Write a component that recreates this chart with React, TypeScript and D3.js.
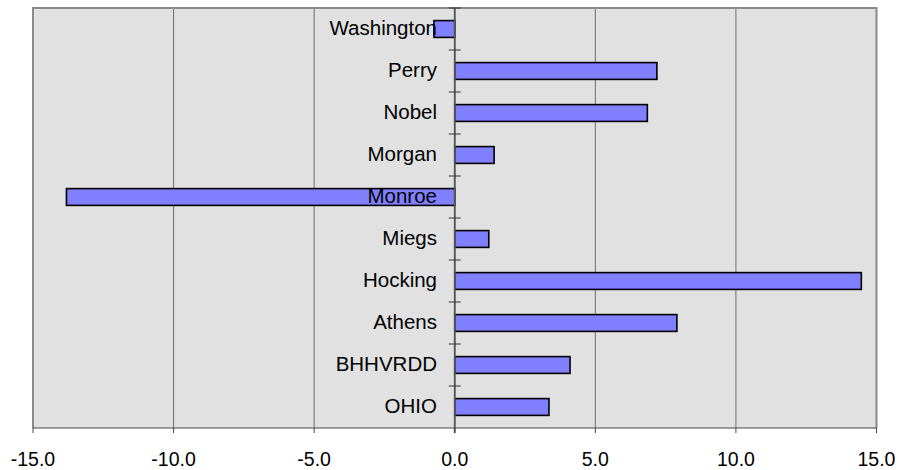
import React from "react";
import * as d3 from "d3";

// Change by county, top to bottom as listed
const counties = ["Washington", "Perry", "Nobel", "Morgan", "Monroe", "Miegs", "Hocking", "Athens", "BHHVRDD", "OHIO"];
const changes = [-0.74, 7.19, 6.85, 1.4, -13.81, 1.21, 14.46, 7.9, 4.1, 3.35];
const xTicks = [-15, -10, -5, 0, 5, 10, 15];

const W = 900;
const H = 470;
const plot = { left: 33, right: 876.5, top: 8, bottom: 428 };
const FONT = "'Liberation Sans', Arial, sans-serif";

export default function App() {
  const x = d3.scaleLinear().domain([-15, 15]).range([plot.left, plot.right]);
  const y = d3
    .scaleBand<string>()
    .domain(counties)
    .range([plot.top, plot.bottom])
    .paddingInner(0.6)
    .paddingOuter(0.3);
  const band = d3.scaleBand<string>().domain(counties).range([plot.top, plot.bottom]);
  const x0 = x(0);
  // plain hyphen for negatives
  const fmt = (v: number) => d3.format(".1f")(v).replace("\u2212", "-");

  return (
    <svg
      width={W}
      height={H}
      style={{ position: "absolute", left: 0, top: 0, background: "#fff" }}
      fontFamily={FONT}
    >
      {/* plot background */}
      <rect
        x={plot.left}
        y={plot.top}
        width={plot.right - plot.left}
        height={plot.bottom - plot.top}
        fill="#e1e1e1"
      />
      {/* vertical gridlines */}
      {xTicks.slice(1, -1).map((t) => (
        <line key={"g" + t} x1={x(t)} x2={x(t)} y1={plot.top} y2={plot.bottom} stroke="#6e6e6e" strokeWidth={1} />
      ))}
      {/* plot border: top, left, right */}
      <path
        d={`M${plot.left},${plot.bottom} V${plot.top} H${plot.right} V${plot.bottom}`}
        fill="none"
        stroke="#8a8a8a"
        strokeWidth={2}
      />
      {/* bars */}
      {counties.map((c, i) => {
        const v = changes[i];
        const x1 = x(Math.min(0, v));
        const x2 = x(Math.max(0, v));
        return (
          <rect
            key={c}
            x={x1}
            y={y(c)!}
            width={x2 - x1}
            height={y.bandwidth()}
            fill="#8080ff"
            stroke="#000"
            strokeWidth={1.6}
          />
        );
      })}
      {/* category axis at zero */}
      <line x1={x0} x2={x0} y1={plot.top} y2={plot.bottom + 5} stroke="#555" strokeWidth={1.8} />
      {counties.map((c) => (
        <line
          key={"t" + c}
          x1={x0 - 6}
          x2={x0 + 6}
          y1={band(c)!}
          y2={band(c)!}
          stroke="#333"
          strokeWidth={1}
        />
      ))}
      {/* category labels */}
      {counties.map((c) => (
        <text
          key={"l" + c}
          x={437}
          y={band(c)! + band.bandwidth() / 2 + 6}
          textAnchor="end"
          fontSize={20.5}
          fill="#000"
        >
          {c}
        </text>
      ))}
      {/* value axis */}
      <line x1={plot.left} x2={plot.right} y1={plot.bottom} y2={plot.bottom} stroke="#444" strokeWidth={1} />
      {xTicks.map((t) => (
        <g key={"x" + t}>
          <line x1={x(t)} x2={x(t)} y1={plot.bottom} y2={plot.bottom + 5} stroke="#444" strokeWidth={1} />
          <text x={x(t)} y={466} textAnchor="middle" fontSize={19.5} fill="#000">
            {fmt(t)}
          </text>
        </g>
      ))}
    </svg>
  );
}
